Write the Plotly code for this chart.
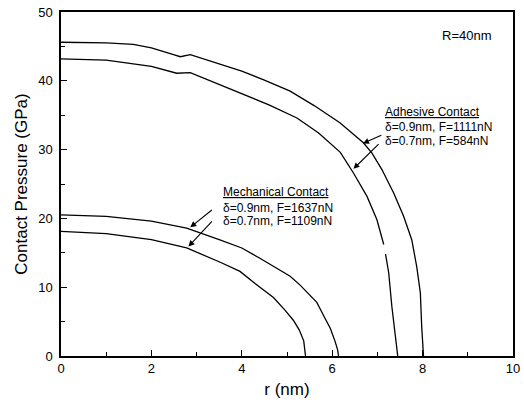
import plotly.graph_objects as go

# Adhesive contact, delta=0.9nm, F=1111nN
adh09_r = [0, 1.0, 1.6, 2.0, 2.49, 2.64, 2.86, 3.45, 4.0, 4.5, 5.07, 5.6, 6.17, 6.69, 6.88, 7.1, 7.36, 7.58, 7.76, 7.87, 7.95, 7.98, 8.02]
adh09_p = [45.6, 45.5, 45.3, 44.8, 43.8, 43.5, 43.8, 42.6, 41.4, 40.1, 38.5, 36.4, 33.9, 31.0, 29.5, 27.1, 23.7, 20.3, 16.9, 13.0, 9.2, 4.3, 0]
# Adhesive contact, delta=0.7nm, F=584nN  (None = gap in the printed trace)
adh07_r = [0, 1.0, 2.0, 2.56, 2.86, 3.96, 4.6, 5.22, 5.7, 6.18, 6.47, 6.77, 6.99, 7.14, None, 7.18, 7.25, 7.32, 7.39, 7.45]
adh07_p = [43.2, 43.0, 42.1, 41.1, 41.2, 38.3, 36.5, 34.6, 32.4, 29.6, 26.6, 23.2, 19.8, 16.2, None, 14.8, 12.1, 7.2, 3.3, 0]
# Mechanical contact, delta=0.9nm, F=1637nN
mec09_r = [0, 1.0, 2.0, 2.78, 3.5, 4.0, 4.4, 4.8, 5.07, 5.29, 5.5, 5.66, 5.8, 5.96, 6.06, 6.12, 6.14]
mec09_p = [20.5, 20.3, 19.6, 18.6, 16.9, 15.7, 14.2, 12.6, 11.6, 10.3, 8.9, 7.8, 6.0, 4.0, 2.2, 0.9, 0]
# Mechanical contact, delta=0.7nm, F=1109nN
mec07_r = [0, 1.0, 2.0, 2.78, 3.5, 3.96, 4.3, 4.7, 4.95, 5.14, 5.27, 5.37, 5.41]
mec07_p = [18.1, 17.8, 16.9, 15.7, 13.7, 12.3, 10.5, 8.5, 6.7, 5.2, 3.8, 2.2, 0]

x_ticks = [0, 2, 4, 6, 8, 10]
y_ticks = [0, 10, 20, 30, 40, 50]

fig = go.Figure()
for rr, pp in [(adh09_r, adh09_p), (adh07_r, adh07_p), (mec09_r, mec09_p), (mec07_r, mec07_p)]:
    fig.add_trace(go.Scatter(x=rr, y=pp, mode="lines", line=dict(color="black", width=1.3),
                             connectgaps=False, showlegend=False, hoverinfo="skip"))

font = dict(family="Liberation Sans, Arial, sans-serif", color="black")

ann = []
def txt(x, y, s, size=12):
    ann.append(dict(x=x, y=y, xref="x", yref="y", text=s, showarrow=False, xanchor="left", yanchor="middle",
                    font=dict(size=size, **font)))
def arr(x0, y0, x1, y1):
    ann.append(dict(x=x1, y=y1, ax=x0, ay=y0, xref="x", yref="y", axref="x", ayref="y", text="", showarrow=True,
                    arrowhead=2, arrowsize=1.1, arrowwidth=1.1, arrowcolor="black"))

txt(8.39, 46.6, "R=40nm", 13)
txt(7.13, 35.5, "<u>Adhesive Contact</u>")
txt(7.13, 33.3, "δ=0.9nm, F=1111nN")
txt(7.13, 31.2, "δ=0.7nm, F=584nN")
arr(7.12, 32.2, 6.68, 30.9)
arr(7.06, 31.0, 6.47, 27.2)
txt(3.54, 23.9, "<u>Mechanical Contact</u>")
txt(3.54, 21.5, "δ=0.9nm, F=1637nN")
txt(3.54, 19.6, "δ=0.7nm, F=1109nN")
arr(3.37, 21.4, 2.86, 18.7)
arr(3.37, 19.8, 2.82, 15.9)

axis_common = dict(showline=True, linecolor="black", linewidth=1.5, mirror=True, ticks="inside", ticklen=6,
                   tickwidth=1.3, tickcolor="black", showgrid=False, zeroline=False,
                   tickfont=dict(size=13, **font))

fig.update_layout(
    width=524, height=410, margin=dict(l=61, r=11, t=12, b=54),
    paper_bgcolor="white", plot_bgcolor="white",
    annotations=ann,
    xaxis=dict(range=[0, 10], tickvals=x_ticks, ticktext=[str(v) for v in x_ticks], **axis_common,
               automargin=False,
               title=dict(text="r (nm)", font=dict(size=17, **font), standoff=8)),
    yaxis=dict(range=[0, 50], tickvals=y_ticks, ticktext=[str(v) for v in y_ticks], **axis_common,
               ticklabelstandoff=4, automargin=False,
               title=dict(text="Contact Pressure (GPa)", font=dict(size=17, **font), standoff=6)),
)
fig.update_xaxes(minor=dict(tickvals=[1, 3, 5, 7, 9], ticks="inside", ticklen=4, tickwidth=1, tickcolor="black"))
fig.update_yaxes(minor=dict(tickvals=[5, 15, 25, 35, 45], ticks="inside", ticklen=4, tickwidth=1, tickcolor="black"))
fig.write_html("out.html")
